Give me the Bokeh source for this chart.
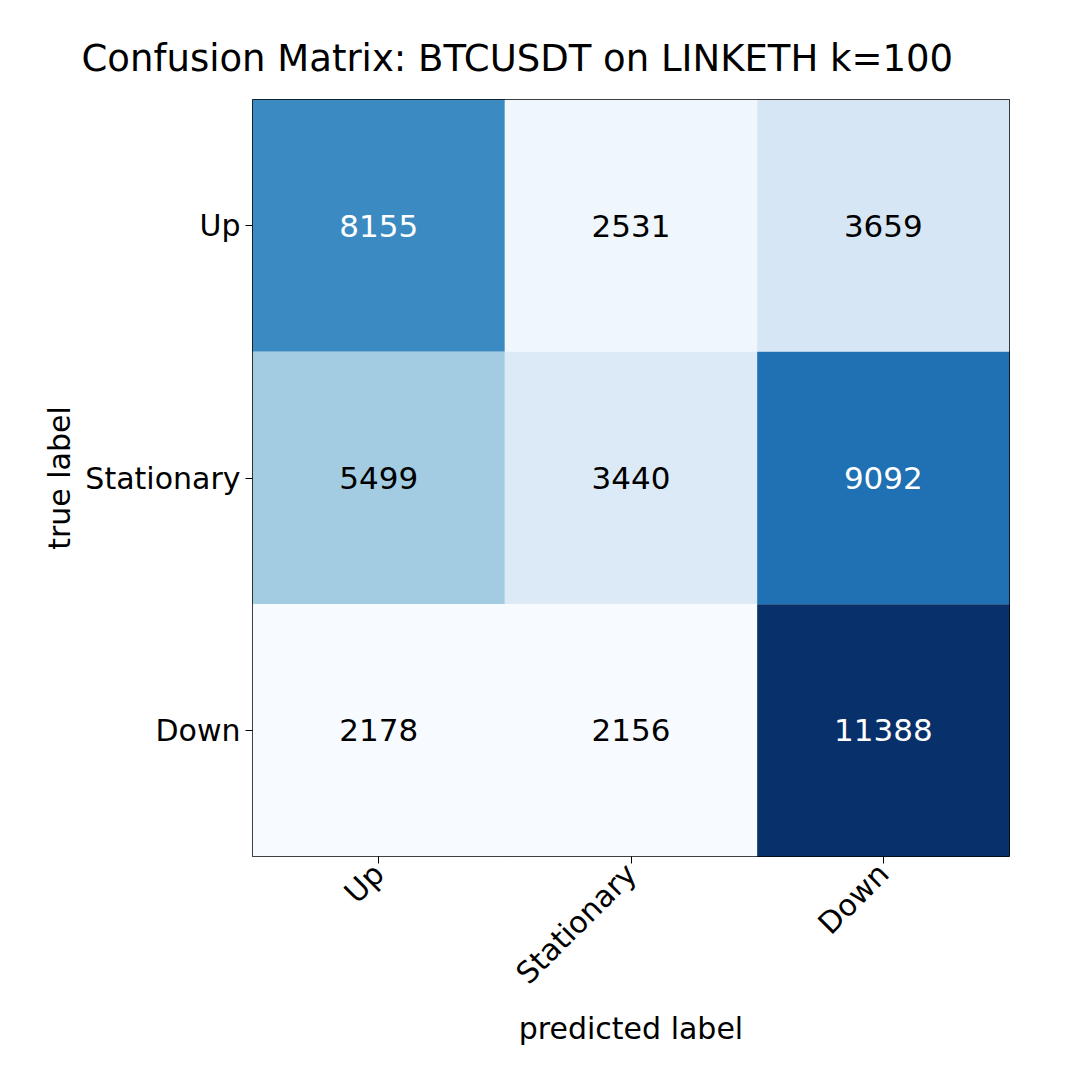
import math
from bokeh.plotting import figure
from bokeh.models import LinearColorMapper, ColumnDataSource
from bokeh.palettes import Blues256
from bokeh.core.properties import value
from bokeh.embed import file_html
from bokeh.resources import INLINE

pred_labels = ["Up", "Stationary", "Down"]
true_labels = ["Up", "Stationary", "Down"]
counts = [
    [8155, 2531, 3659],
    [5499, 3440, 9092],
    [2178, 2156, 11388],
]

xs, ys, vals, txt, tcol = [], [], [], [], []
vmax = max(max(r) for r in counts)
vmin = min(min(r) for r in counts)
for i, t in enumerate(true_labels):
    for j, pl in enumerate(pred_labels):
        v = counts[i][j]
        xs.append(pl)
        ys.append(t)
        vals.append(v)
        txt.append(str(v))
        tcol.append("white" if v > vmax / 2 else "black")

src = ColumnDataSource(dict(x=xs, y=ys, v=vals, t=txt, c=tcol))
mapper = LinearColorMapper(palette=list(reversed(Blues256)), low=vmin, high=vmax)

p = figure(width=1064, height=1064, x_range=pred_labels, y_range=list(reversed(true_labels)),
           output_backend="svg", toolbar_location=None,
           title="Confusion Matrix: BTCUSDT on LINKETH k=100")
p.min_border_left = 252
p.min_border_right = 55
p.min_border_top = 99
p.min_border_bottom = 208

p.rect("x", "y", 1, 1, source=src, fill_color={"field": "v", "transform": mapper}, line_color=None)
p.text("x", "y", text="t", source=src, text_color="c", text_align="center", text_baseline="middle",
       text_font=value("DejaVu Sans"), text_font_size="31px")

p.title.text_font = "DejaVu Sans"
p.title.text_font_size = "37px"
p.title.text_font_style = "normal"
p.title.text_color = "black"
p.title.align = "left"
p.title.offset = -171
p.title.standoff = 40

p.grid.visible = False
p.outline_line_color = "black"
p.outline_line_width = 1

for ax in (p.xaxis[0], p.yaxis[0]):
    ax.axis_line_color = None
    ax.major_label_text_font = "DejaVu Sans"
    ax.major_label_text_font_size = "30px"
    ax.major_label_text_color = "black"
    ax.axis_label_text_font = "DejaVu Sans"
    ax.axis_label_text_font_size = "30px"
    ax.axis_label_text_font_style = "normal"
    ax.axis_label_text_color = "black"
    ax.major_tick_out = 7
    ax.major_tick_in = 0
    ax.major_tick_line_color = "black"

p.xaxis.axis_label = "predicted label"
p.yaxis.axis_label = "true label"
p.xaxis.major_label_orientation = math.pi / 4

open("out.html", "w").write(file_html(p, INLINE))
